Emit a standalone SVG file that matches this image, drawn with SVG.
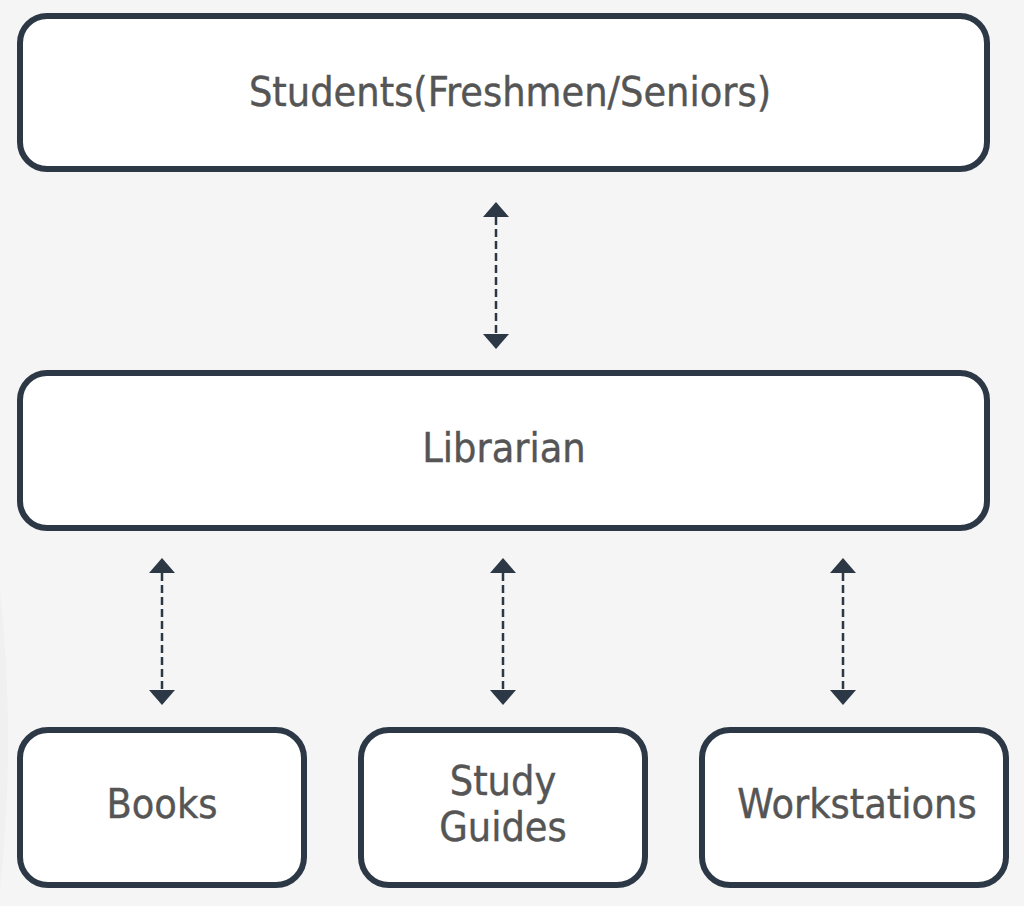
<svg xmlns="http://www.w3.org/2000/svg" width="1024" height="906" viewBox="0 0 1024 906">
<defs>
<style>
.box{fill:#ffffff;stroke:#2c3846;stroke-width:6}
.lbl{font-family:"DejaVu Sans Condensed","DejaVu Sans",sans-serif;font-size:41px;fill:#555555;stroke:#555555;stroke-width:0.4;text-anchor:middle}
.con{stroke:#2c3846;stroke-width:2.5;stroke-dasharray:8 4;fill:none}
</style>
<marker id="ah" viewBox="0 0 15 26" refX="0" refY="13" markerWidth="15" markerHeight="26" markerUnits="userSpaceOnUse" orient="auto-start-reverse">
<path d="M0,0 L15,13 L0,26 Z" fill="#2c3846"/>
</marker>
</defs>
<rect x="0" y="0" width="1024" height="906" fill="#f5f5f5"/>
<path d="M0,590 Q16,740 0,890 Z" fill="#f0f0f0"/>
<g id="connectors">
<line class="con" x1="496" y1="217" x2="496" y2="334" marker-start="url(#ah)" marker-end="url(#ah)"/>
<line class="con" x1="162" y1="573" x2="162" y2="690" marker-start="url(#ah)" marker-end="url(#ah)"/>
<line class="con" x1="503" y1="573" x2="503" y2="690" marker-start="url(#ah)" marker-end="url(#ah)"/>
<line class="con" x1="843" y1="573" x2="843" y2="690" marker-start="url(#ah)" marker-end="url(#ah)"/>
</g>
<g id="students">
<rect class="box" x="20" y="16" width="967" height="153" rx="27"/>
<text class="lbl" x="510" y="106">Students(Freshmen/Seniors)</text>
</g>
<g id="librarian">
<rect class="box" x="20" y="373" width="967" height="155" rx="27"/>
<text class="lbl" x="504" y="462">Librarian</text>
</g>
<g id="books">
<rect class="box" x="20" y="730" width="284" height="155" rx="28"/>
<text class="lbl" x="162" y="818">Books</text>
</g>
<g id="study-guides">
<rect class="box" x="361" y="730" width="284" height="155" rx="28"/>
<text class="lbl" x="503" y="795">Study</text>
<text class="lbl" x="503" y="841">Guides</text>
</g>
<g id="workstations">
<rect class="box" x="702" y="730" width="304" height="155" rx="28"/>
<text class="lbl" x="857" y="818">Workstations</text>
</g>
</svg>
